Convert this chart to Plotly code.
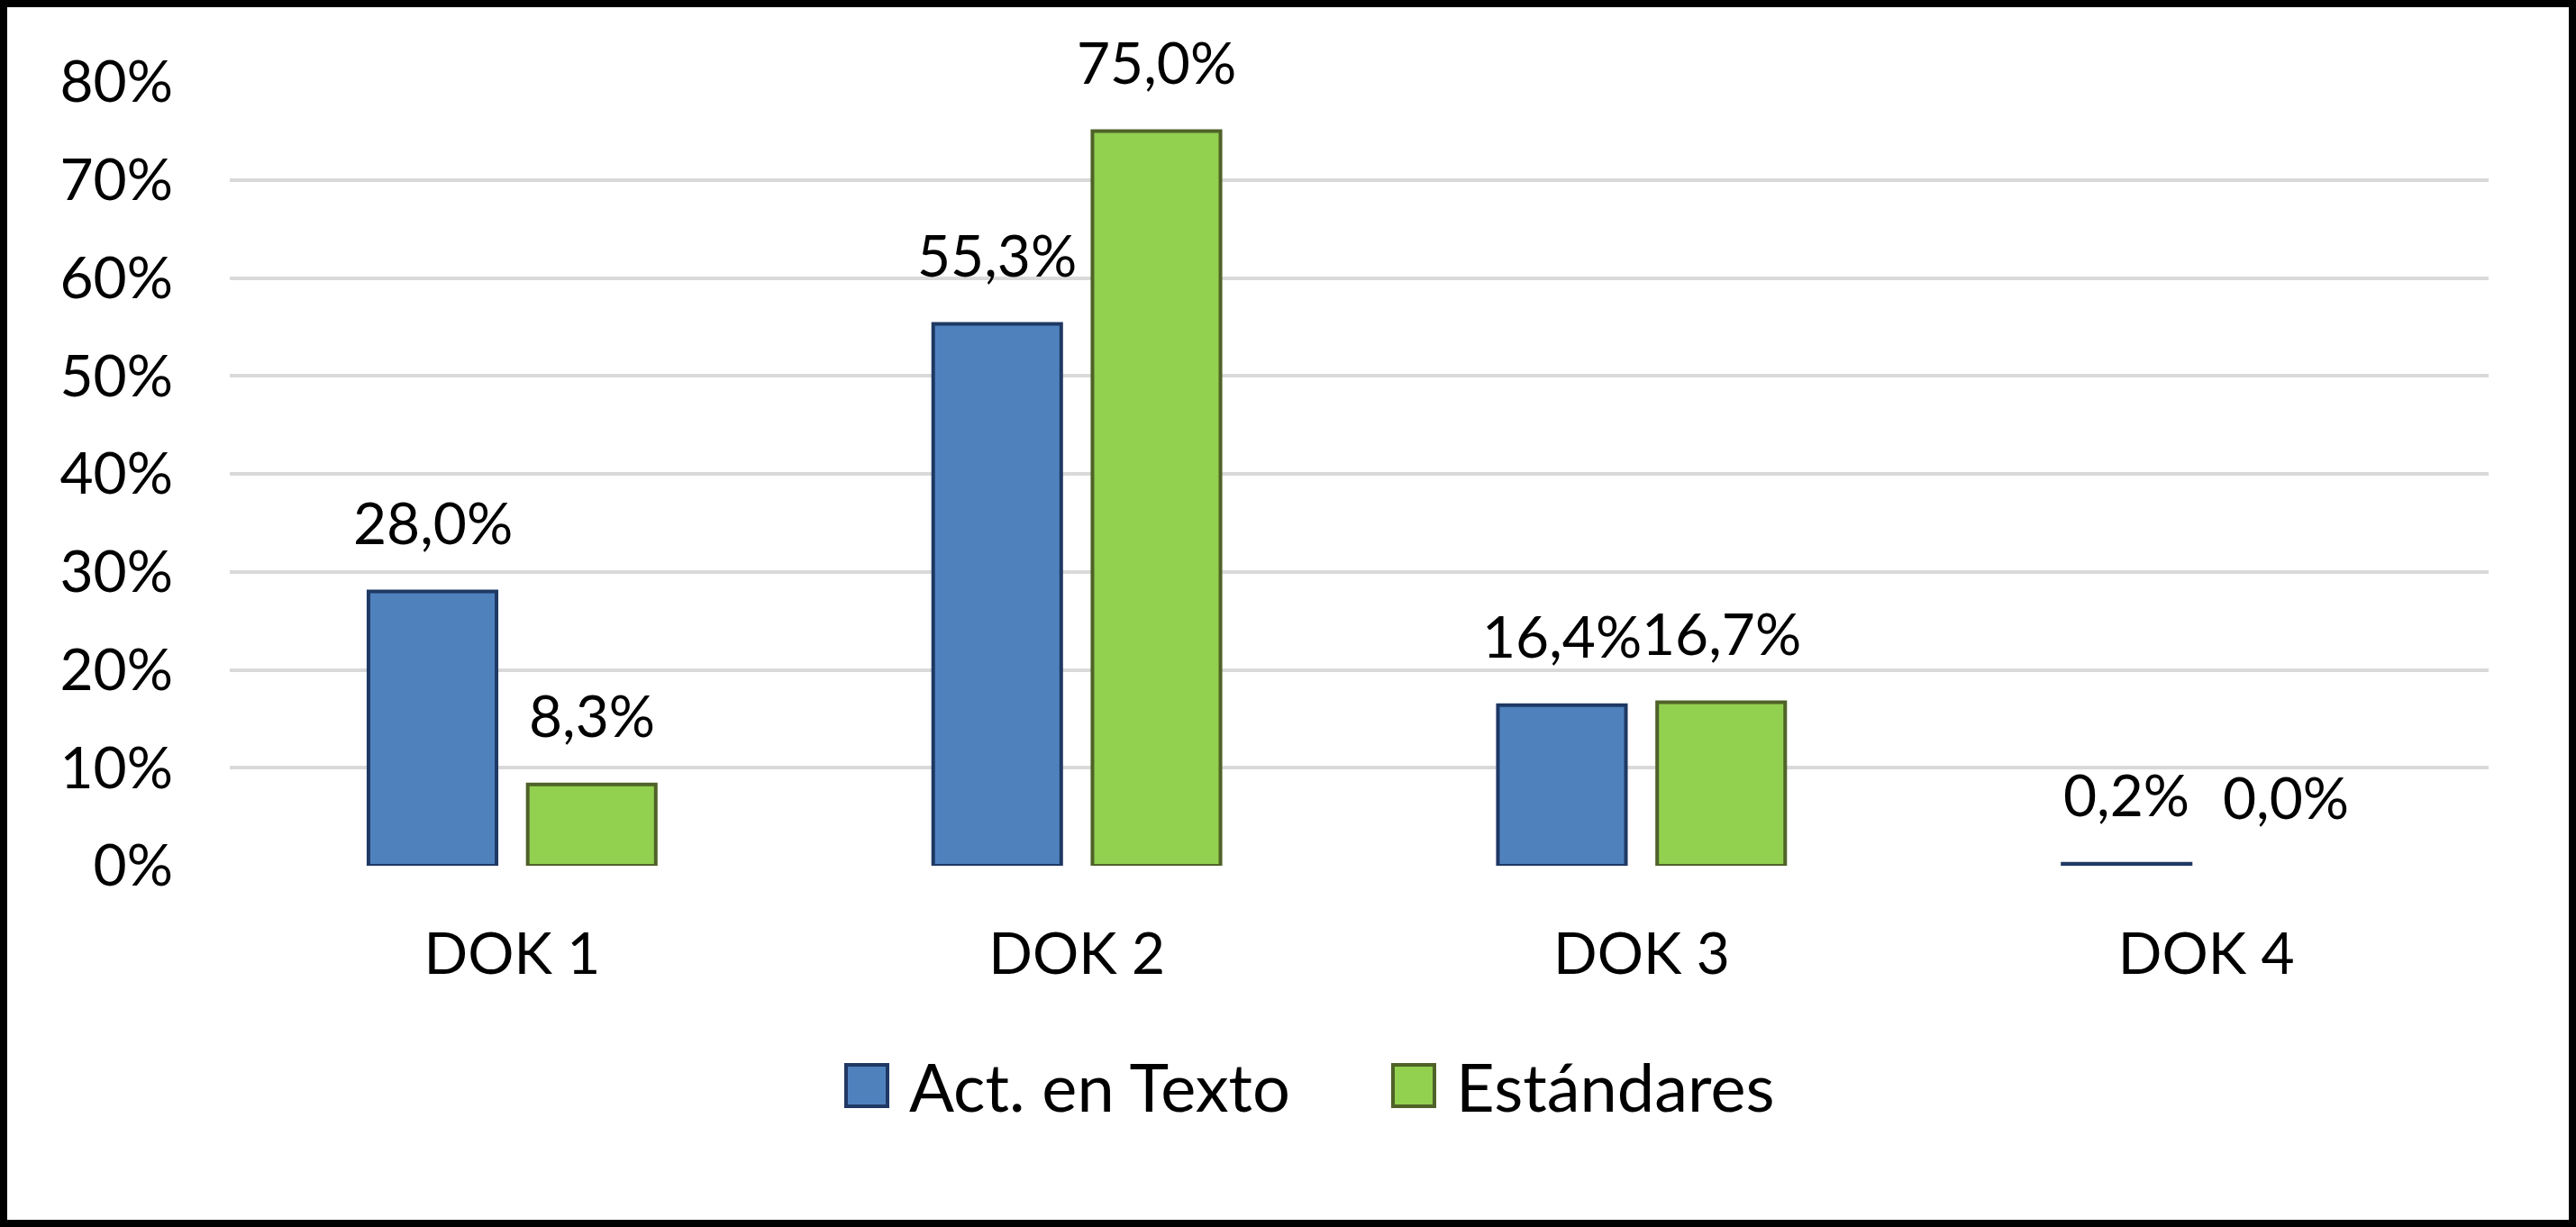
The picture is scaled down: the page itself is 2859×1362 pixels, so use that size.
import plotly.graph_objects as go

categories = ["DOK 1", "DOK 2", "DOK 3", "DOK 4"]
series_names = ["Act. en Texto", "Estándares"]
act_texto = [0.280, 0.553, 0.164, 0.002]
estandares = [0.083, 0.750, 0.167, 0.000]
y_ticks = [0, 0.1, 0.2, 0.3, 0.4, 0.5, 0.6, 0.7, 0.8]
y_tick_labels = ["0%", "10%", "20%", "30%", "40%", "50%", "60%", "70%", "80%"]

fills = ["#4F81BD", "#92D050"]
borders = ["#1F3864", "#4F6228"]

W, H = 2859, 1362
L, R, T, B = 255, 97, 91, 401
PW, PH = W - L - R, H - T - B
FONT = "Lato"
TICK_SIZE = 64
LEG_SIZE = 74
BARGAP = 0.436
BARGROUPGAP = 0.196

fig = go.Figure()
series = [act_texto, estandares]
for name, vals, fc, bc in zip(series_names, series, fills, borders):
    fig.add_trace(go.Bar(
        x=categories, y=vals, name=name,
        marker=dict(color=fc, line=dict(color=bc, width=[4 if v > 0 else 0 for v in vals])),
        showlegend=False, hoverinfo="skip",
    ))

# data labels
slot = (1 - BARGAP) / 2
for si, vals in enumerate(series):
    off = (si - 0.5) * slot
    for ci, v in enumerate(vals):
        fig.add_annotation(
            x=ci + off, y=v, xref="x", yref="y",
            text=f"{v*100:.1f}%".replace(".", ","),
            showarrow=False, yanchor="middle", xanchor="center", yshift=77,
            font=dict(family=FONT, size=TICK_SIZE, color="#000000"),
        )

# manual legend
leg_items = [(939, 1007), (1546, 1614)]
leg_yc = 1205
sq = 46
for (sx, tx), name, fc, bc in zip(leg_items, series_names, fills, borders):
    fig.add_shape(
        type="rect", xref="paper", yref="paper",
        x0=(sx - L) / PW, x1=(sx + sq - L) / PW,
        y0=(H - B - (leg_yc + sq / 2)) / PH, y1=(H - B - (leg_yc - sq / 2)) / PH,
        fillcolor=fc, line=dict(color=bc, width=4),
    )
    fig.add_annotation(
        xref="paper", yref="paper", x=(tx - L) / PW, y=(H - B - leg_yc) / PH,
        text=name, showarrow=False, xanchor="left", yanchor="middle",
        font=dict(family=FONT, size=LEG_SIZE, color="#000000"),
    )

# outer frame
fw = 8
fig.add_shape(
    type="rect", xref="paper", yref="paper",
    x0=(-L + fw / 2) / PW, x1=1 + (R - fw / 2) / PW,
    y0=(-B + fw / 2) / PH, y1=1 + (T - fw / 2) / PH,
    line=dict(color="#000000", width=fw), fillcolor="rgba(0,0,0,0)",
)

fig.update_layout(
    width=W, height=H,
    margin=dict(l=L, r=R, t=T, b=B, pad=0),
    paper_bgcolor="white", plot_bgcolor="white",
    barmode="group", bargap=BARGAP, bargroupgap=BARGROUPGAP,
    font=dict(family=FONT, size=TICK_SIZE, color="#000000"),
    showlegend=False,
    xaxis=dict(
        type="category", categoryorder="array", categoryarray=categories,
        showgrid=False, zeroline=False, showline=False,
        ticks="", ticklabelstandoff=55,
        tickfont=dict(family=FONT, size=TICK_SIZE, color="#000000"),
    ),
    yaxis=dict(
        range=[0, 0.8], tickvals=y_ticks, ticktext=y_tick_labels,
        showgrid=True, gridcolor="#D9D9D9", gridwidth=4,
        zeroline=False, showline=False, ticks="", ticklabelstandoff=62,
        tickfont=dict(family=FONT, size=TICK_SIZE, color="#000000"),
    ),
)

fig.write_html("out.html", config={"displayModeBar": False},
               post_script="document.body.style.margin='0';")
